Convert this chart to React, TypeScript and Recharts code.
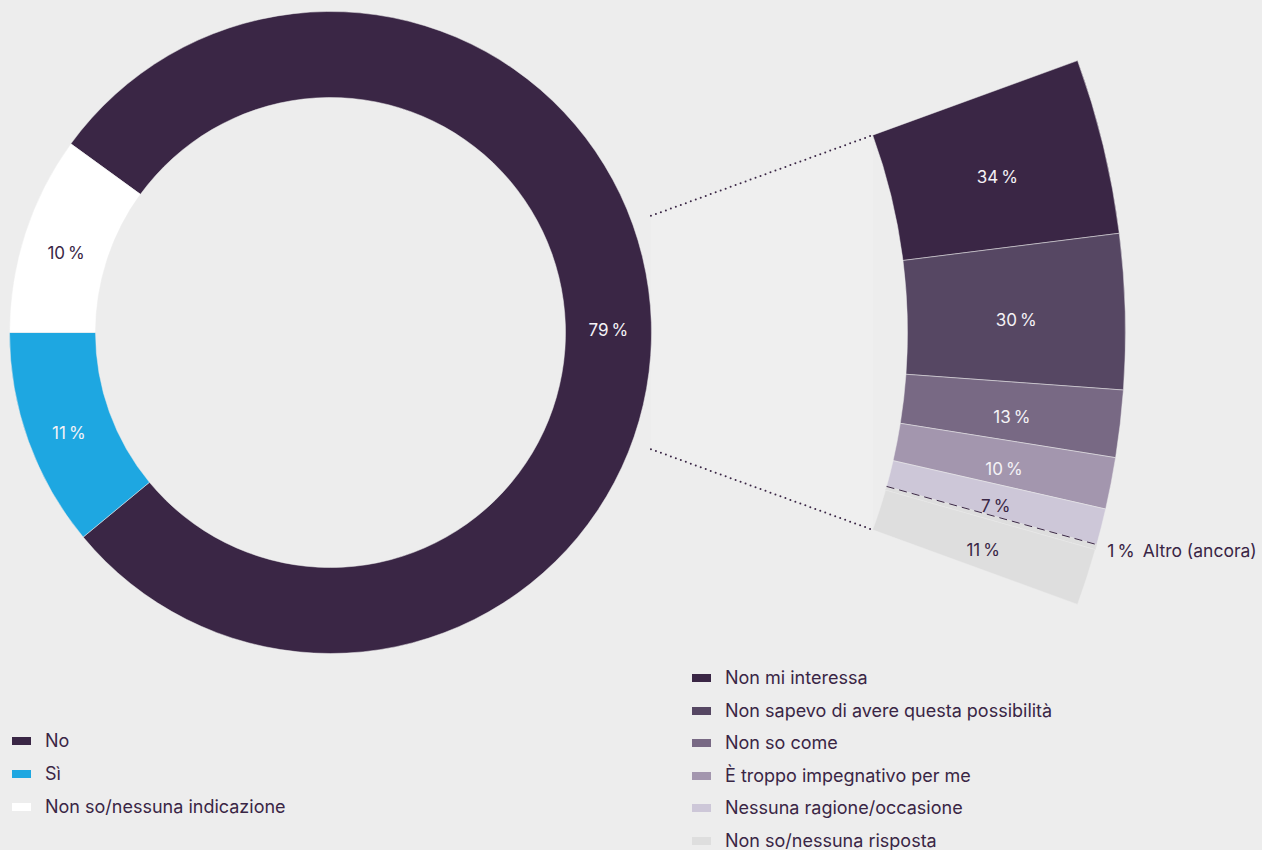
import { PieChart, Pie, Cell, Customized } from 'recharts';

const donutNames = ['No', 'Sì', 'Non so/nessuna indicazione'];
const donutValues = [79, 11, 10];
const donutColors = ['#3a2645', '#1ea7e1', '#ffffff'];
const donutText = ['#f4f2f6', '#f4f2f6', '#3a2645'];

const reasonNames = [
  'Non mi interessa',
  'Non sapevo di avere questa possibilità',
  'Non so come',
  'È troppo impegnativo per me',
  'Nessuna ragione/occasione',
  'Altro (ancora)',
  'Non so/nessuna risposta',
];
const reasonValues = [34, 30, 13, 10, 7, 1, 11];
const reasonColors = ['#3a2645', '#564763', '#786984', '#a396ae', '#cdc7d8', '#dedede', '#dedede'];
const reasonText = ['#f4f2f6', '#f4f2f6', '#f4f2f6', '#f4f2f6', '#3a2645', '#3a2645', '#3a2645'];
const otherIndex = 5;

const donutData = donutNames.map((name, i) => ({ name, value: donutValues[i] }));
const reasonData = reasonNames.map((name, i) => ({ name, value: reasonValues[i] }));

const W = 1262;
const H = 850;
const CX = 330.5;
const CY = 332.5;
const FAN_START = 20;
const FAN_END = -20;
const FAN_INNER = 577;
const FAN_OUTER = 795;
const FONT = 'Inter, "Noto Sans", sans-serif';
const RAD = Math.PI / 180;

const polar = (r: number, a: number) => ({ x: CX + r * Math.cos(a * RAD), y: CY - r * Math.sin(a * RAD) });
const pct = (v: number) => `${v}\u2009%`;

function sliceLabel(colors: string[], values: number[]) {
  return (p: any) => {
    const r = (p.innerRadius + p.outerRadius) / 2;
    const x = p.cx + r * Math.cos(-p.midAngle * RAD);
    const y = p.cy + r * Math.sin(-p.midAngle * RAD) + 6;
    return (
      <text x={x} y={y} fill={colors[p.index]} fontSize={17} fontFamily={FONT} textAnchor="middle" dominantBaseline="central">
        {pct(values[p.index])}
      </text>
    );
  };
}

function reasonLabel(p: any) {
  if (p.index !== otherIndex) return sliceLabel(reasonText, reasonValues)(p);
  // the 1% slice is shown as a dashed divider with an outside label
  const a = -p.startAngle * RAD;
  const x1 = p.cx + p.innerRadius * Math.cos(a);
  const y1 = p.cy + p.innerRadius * Math.sin(a);
  const x2 = p.cx + (p.outerRadius + 3) * Math.cos(a);
  const y2 = p.cy + (p.outerRadius + 3) * Math.sin(a);
  const tx = p.cx + (p.outerRadius + 11) * Math.cos(a);
  const ty = p.cy + (p.outerRadius + 11) * Math.sin(a);
  return (
    <g>
      <line x1={x1} y1={y1} x2={x2} y2={y2} stroke="#3a2645" strokeWidth={1} strokeDasharray="8 5" />
      <text x={tx} y={ty + 3} fill="#3a2645" fontSize={17.5} fontFamily={FONT} dominantBaseline="central">
        {pct(reasonValues[p.index]) + '\u00a0\u2009' + reasonNames[p.index]}
      </text>
    </g>
  );
}

function Connectors() {
  const a1 = polar(341, FAN_START);
  const b1 = polar(FAN_INNER, FAN_START);
  const a2 = polar(341, FAN_END);
  const b2 = polar(FAN_INNER, FAN_END);
  return (
    <g>
      <polygon points={`${a1.x},${a1.y} ${b1.x},${b1.y} ${b2.x},${b2.y} ${a2.x},${a2.y}`} fill="#efefef" />
      <line x1={a1.x} y1={a1.y} x2={b1.x} y2={b1.y} stroke="#3a2645" strokeWidth={2} strokeDasharray="0 5.3" strokeLinecap="round" />
      <line x1={a2.x} y1={a2.y} x2={b2.x} y2={b2.y} stroke="#3a2645" strokeWidth={2} strokeDasharray="0 5.3" strokeLinecap="round" />
    </g>
  );
}

function LegendRows({ names, colors, left, top, step }: { names: string[]; colors: string[]; left: number; top: number; step: number }) {
  return (
    <>
      {names.map((n, i) => (
        <div key={n} style={{ position: 'absolute', left, top: top + i * step - 11, height: 22, display: 'flex', alignItems: 'center' }}>
          <div style={{ width: 19, height: 8, background: colors[i], marginRight: 14 }} />
          <span style={{ fontFamily: FONT, fontSize: 18, lineHeight: '22px', color: '#3a2645', whiteSpace: 'nowrap' }}>{n}</span>
        </div>
      ))}
    </>
  );
}

export default function App() {
  const legendNames = reasonNames.filter((_, i) => i !== otherIndex);
  const legendColors = reasonColors.filter((_, i) => i !== otherIndex);
  return (
    <div style={{ position: 'absolute', left: 0, top: 0, width: W, height: H, background: '#ededed', overflow: 'hidden' }}>
      <PieChart width={W} height={H} margin={{ top: 0, right: 0, bottom: 0, left: 0 }}>
        <Customized component={Connectors} />
        <Pie
          data={donutData}
          dataKey="value"
          cx={CX}
          cy={CY}
          innerRadius={235}
          outerRadius={321}
          startAngle={144}
          endAngle={-216}
          stroke="#ededed"
          strokeWidth={0.5}
          label={sliceLabel(donutText, donutValues)}
          labelLine={false}
          isAnimationActive={false}
        >
          {donutData.map((d, i) => (
            <Cell key={d.name} fill={donutColors[i]} />
          ))}
        </Pie>
        <Pie
          data={reasonData}
          dataKey="value"
          cx={CX}
          cy={CY}
          innerRadius={FAN_INNER}
          outerRadius={FAN_OUTER}
          startAngle={FAN_START}
          endAngle={FAN_END}
          stroke="#ededed"
          strokeWidth={0.5}
          label={reasonLabel}
          labelLine={false}
          isAnimationActive={false}
        >
          {reasonData.map((d, i) => (
            <Cell key={d.name} fill={reasonColors[i]} stroke={i === otherIndex ? reasonColors[i] : '#ededed'} />
          ))}
        </Pie>
      </PieChart>
      <LegendRows names={donutNames} colors={donutColors} left={12} top={741} step={33} />
      <LegendRows names={legendNames} colors={legendColors} left={692} top={678} step={32.6} />
    </div>
  );
}
